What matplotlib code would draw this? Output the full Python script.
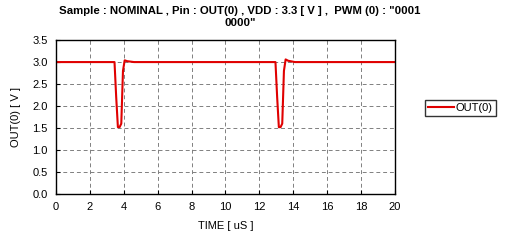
import matplotlib
matplotlib.use("Agg")
import matplotlib.pyplot as plt

plt.rcParams['font.family'] = ['Liberation Sans', 'DejaVu Sans']

# waveform
time_us = [0.0, 3.45, 3.55, 3.65, 3.75, 3.85, 3.95, 4.05, 4.2, 4.6, 12.95,
           13.05, 13.15, 13.25, 13.35, 13.45, 13.55, 13.7, 14.1, 20.0]
out0_v = [3.0, 3.0, 2.2, 1.52, 1.52, 1.6, 2.8, 3.04, 3.02, 3.0, 3.0,
          2.2, 1.52, 1.52, 1.6, 2.8, 3.06, 3.03, 3.0, 3.0]

x_ticks = [0, 2, 4, 6, 8, 10, 12, 14, 16, 18, 20]
y_ticks = [0.0, 0.5, 1.0, 1.5, 2.0, 2.5, 3.0, 3.5]

fig = plt.figure(figsize=(5.05, 2.49), dpi=100)
ax = fig.add_axes([0.111, 0.221, 0.671, 0.618])

ax.plot(time_us, out0_v, color='#e00000', linewidth=1.5, label='OUT(0)')

ax.set_xlim(0, 20)
ax.set_ylim(0, 3.5)
ax.set_xticks(x_ticks)
ax.set_yticks(y_ticks)
ax.set_yticklabels(['%.1f' % v for v in y_ticks])
ax.tick_params(direction='in', length=3, labelsize=8, pad=6)
ax.grid(True, linestyle=(0, (4, 3)), color='#808080', linewidth=0.7)
for s in ax.spines.values():
    s.set_linewidth(1.0)

ax.set_xlabel('TIME [ uS ]', fontsize=8, labelpad=6)
ax.set_ylabel('OUT(0) [ V ]', fontsize=8, labelpad=8)
fig.suptitle('Sample : NOMINAL , Pin : OUT(0) , VDD : 3.3 [ V ] ,  PWM (0) : "0001\n0000"',
             fontsize=8.2, fontweight='bold', x=0.475, y=0.975, linespacing=1.25)

ax.legend(loc='center left', bbox_to_anchor=(1.09, 0.56), fontsize=8,
          frameon=True, fancybox=False, edgecolor='black', borderpad=0.25,
          handlelength=2.3, handletextpad=0.2, borderaxespad=0)

fig.savefig('out.png', dpi=100)
